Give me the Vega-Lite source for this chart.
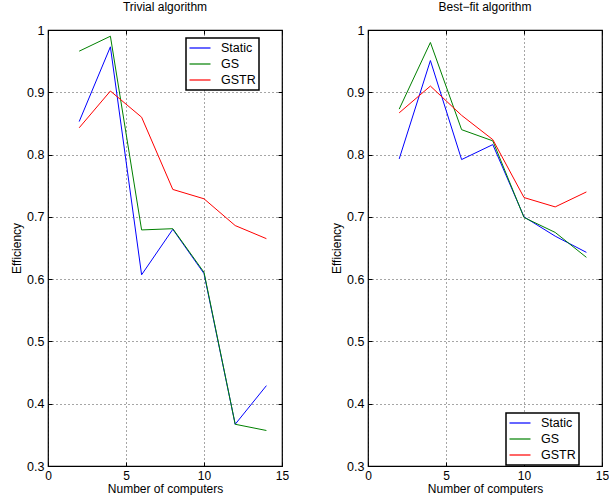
{
  "$schema": "https://vega.github.io/schema/vega-lite/v6.json",
  "background": "white",
  "padding": {"left": 10, "top": 0, "right": 0, "bottom": 0},
  "bounds": "flush",
  "spacing": 86,
  "config": {
    "font": "Liberation Sans",
    "view": {"stroke": "black", "strokeWidth": 1.2},
    "title": {"fontSize": 12, "fontWeight": "normal", "color": "black", "offset": 10, "anchor": "middle"},
    "axis": {
      "domain": false,
      "ticks": true,
      "tickSize": -4,
      "tickColor": "black",
      "labelFontSize": 12.5,
      "labelColor": "black",
      "titleFontSize": 12,
      "titleFontWeight": "normal",
      "titleColor": "black",
      "gridColor": "black",
      "gridDash": [1, 3],
      "gridOpacity": 0.7,
      "labelFlush": false,
      "labelOverlap": false
    },
    "axisLeft": {"labelPadding": 8, "titlePadding": 3},
    "axisBottom": {"labelPadding": 8, "labelFontSize": 12, "titlePadding": 2},
    "legend": {
      "title": null,
      "strokeColor": "black",
      "strokeWidth": 1.5,
      "fillColor": "white",
      "padding": 3,
      "symbolType": "M-1.75,0H1.75",
      "symbolSize": 144,
      "symbolStrokeWidth": 1.2,
      "symbolOffset": 4,
      "labelOffset": 14,
      "labelFontSize": 12.5,
      "labelColor": "black",
      "rowPadding": 2
    }
  },
  "resolve": {"legend": {"color": "independent"}},
  "data": {
    "values": [
      {"algo": "Trivial", "series": "Static", "n": 2, "eff": 0.853},
      {"algo": "Trivial", "series": "Static", "n": 4, "eff": 0.973},
      {"algo": "Trivial", "series": "Static", "n": 6, "eff": 0.607},
      {"algo": "Trivial", "series": "Static", "n": 8, "eff": 0.680},
      {"algo": "Trivial", "series": "Static", "n": 10, "eff": 0.609},
      {"algo": "Trivial", "series": "Static", "n": 12, "eff": 0.367},
      {"algo": "Trivial", "series": "Static", "n": 14, "eff": 0.429},
      {"algo": "Trivial", "series": "GS", "n": 2, "eff": 0.966},
      {"algo": "Trivial", "series": "GS", "n": 4, "eff": 0.990},
      {"algo": "Trivial", "series": "GS", "n": 6, "eff": 0.679},
      {"algo": "Trivial", "series": "GS", "n": 8, "eff": 0.681},
      {"algo": "Trivial", "series": "GS", "n": 10, "eff": 0.611},
      {"algo": "Trivial", "series": "GS", "n": 12, "eff": 0.367},
      {"algo": "Trivial", "series": "GS", "n": 14, "eff": 0.357},
      {"algo": "Trivial", "series": "GSTR", "n": 2, "eff": 0.843},
      {"algo": "Trivial", "series": "GSTR", "n": 4, "eff": 0.902},
      {"algo": "Trivial", "series": "GSTR", "n": 6, "eff": 0.860},
      {"algo": "Trivial", "series": "GSTR", "n": 8, "eff": 0.744},
      {"algo": "Trivial", "series": "GSTR", "n": 10, "eff": 0.729},
      {"algo": "Trivial", "series": "GSTR", "n": 12, "eff": 0.686},
      {"algo": "Trivial", "series": "GSTR", "n": 14, "eff": 0.665},
      {"algo": "Best-fit", "series": "Static", "n": 2, "eff": 0.793},
      {"algo": "Best-fit", "series": "Static", "n": 4, "eff": 0.951},
      {"algo": "Best-fit", "series": "Static", "n": 6, "eff": 0.792},
      {"algo": "Best-fit", "series": "Static", "n": 8, "eff": 0.816},
      {"algo": "Best-fit", "series": "Static", "n": 10, "eff": 0.700},
      {"algo": "Best-fit", "series": "Static", "n": 12, "eff": 0.669},
      {"algo": "Best-fit", "series": "Static", "n": 14, "eff": 0.643},
      {"algo": "Best-fit", "series": "GS", "n": 2, "eff": 0.873},
      {"algo": "Best-fit", "series": "GS", "n": 4, "eff": 0.980},
      {"algo": "Best-fit", "series": "GS", "n": 6, "eff": 0.840},
      {"algo": "Best-fit", "series": "GS", "n": 8, "eff": 0.822},
      {"algo": "Best-fit", "series": "GS", "n": 10, "eff": 0.699},
      {"algo": "Best-fit", "series": "GS", "n": 12, "eff": 0.675},
      {"algo": "Best-fit", "series": "GS", "n": 14, "eff": 0.635},
      {"algo": "Best-fit", "series": "GSTR", "n": 2, "eff": 0.867},
      {"algo": "Best-fit", "series": "GSTR", "n": 4, "eff": 0.910},
      {"algo": "Best-fit", "series": "GSTR", "n": 6, "eff": 0.863},
      {"algo": "Best-fit", "series": "GSTR", "n": 8, "eff": 0.824},
      {"algo": "Best-fit", "series": "GSTR", "n": 10, "eff": 0.731},
      {"algo": "Best-fit", "series": "GSTR", "n": 12, "eff": 0.716},
      {"algo": "Best-fit", "series": "GSTR", "n": 14, "eff": 0.740}
    ]
  },
  "hconcat": [
    {
      "width": 234,
      "height": 436,
      "title": "Trivial algorithm",
      "transform": [{"filter": "datum.algo === 'Trivial'"}],
      "layer": [
        {
          "mark": {"type": "line", "strokeWidth": 1, "clip": true},
          "encoding": {
            "x": {"field": "n", "type": "quantitative", "scale": {"domain": [0, 15], "nice": false}, "axis": {"orient": "bottom", "values": [0, 5, 10, 15], "grid": true, "title": "Number of computers"}},
            "y": {"field": "eff", "type": "quantitative", "scale": {"domain": [0.3, 1], "nice": false, "zero": false}, "axis": {"orient": "left", "values": [0.3, 0.4, 0.5, 0.6, 0.7, 0.8, 0.9, 1], "grid": true, "format": ".1~f", "title": "Efficiency"}},
            "color": {"field": "series", "type": "nominal", "sort": ["Static", "GS", "GSTR"], "scale": {"domain": ["Static", "GS", "GSTR"], "range": ["#0000ff", "#008000", "#ff0000"]}, "legend": {"orient": "none", "legendX": 138, "legendY": 8}}
          }
        },
        {
          "mark": {"type": "line", "strokeOpacity": 0},
          "encoding": {
            "x": {"field": "n", "type": "quantitative", "axis": {"orient": "top", "values": [0, 5, 10, 15], "grid": false, "labels": false, "title": null}},
            "y": {"field": "eff", "type": "quantitative", "axis": {"orient": "right", "values": [0.3, 0.4, 0.5, 0.6, 0.7, 0.8, 0.9, 1], "grid": false, "labels": false, "title": null}},
            "detail": {"field": "series"}
          }
        }
      ]
    },
    {
      "width": 234,
      "height": 436,
      "title": "Best\u2212fit algorithm",
      "transform": [{"filter": "datum.algo === 'Best-fit'"}],
      "layer": [
        {
          "mark": {"type": "line", "strokeWidth": 1, "clip": true},
          "encoding": {
            "x": {"field": "n", "type": "quantitative", "scale": {"domain": [0, 15], "nice": false}, "axis": {"orient": "bottom", "values": [0, 5, 10, 15], "grid": true, "title": "Number of computers"}},
            "y": {"field": "eff", "type": "quantitative", "scale": {"domain": [0.3, 1], "nice": false, "zero": false}, "axis": {"orient": "left", "values": [0.3, 0.4, 0.5, 0.6, 0.7, 0.8, 0.9, 1], "grid": true, "format": ".1~f", "title": "Efficiency"}},
            "color": {"field": "series", "type": "nominal", "sort": ["Static", "GS", "GSTR"], "scale": {"domain": ["Static", "GS", "GSTR"], "range": ["#0000ff", "#008000", "#ff0000"]}, "legend": {"orient": "none", "legendX": 138, "legendY": 383}}
          }
        },
        {
          "mark": {"type": "line", "strokeOpacity": 0},
          "encoding": {
            "x": {"field": "n", "type": "quantitative", "axis": {"orient": "top", "values": [0, 5, 10, 15], "grid": false, "labels": false, "title": null}},
            "y": {"field": "eff", "type": "quantitative", "axis": {"orient": "right", "values": [0.3, 0.4, 0.5, 0.6, 0.7, 0.8, 0.9, 1], "grid": false, "labels": false, "title": null}},
            "detail": {"field": "series"}
          }
        }
      ]
    }
  ]
}
